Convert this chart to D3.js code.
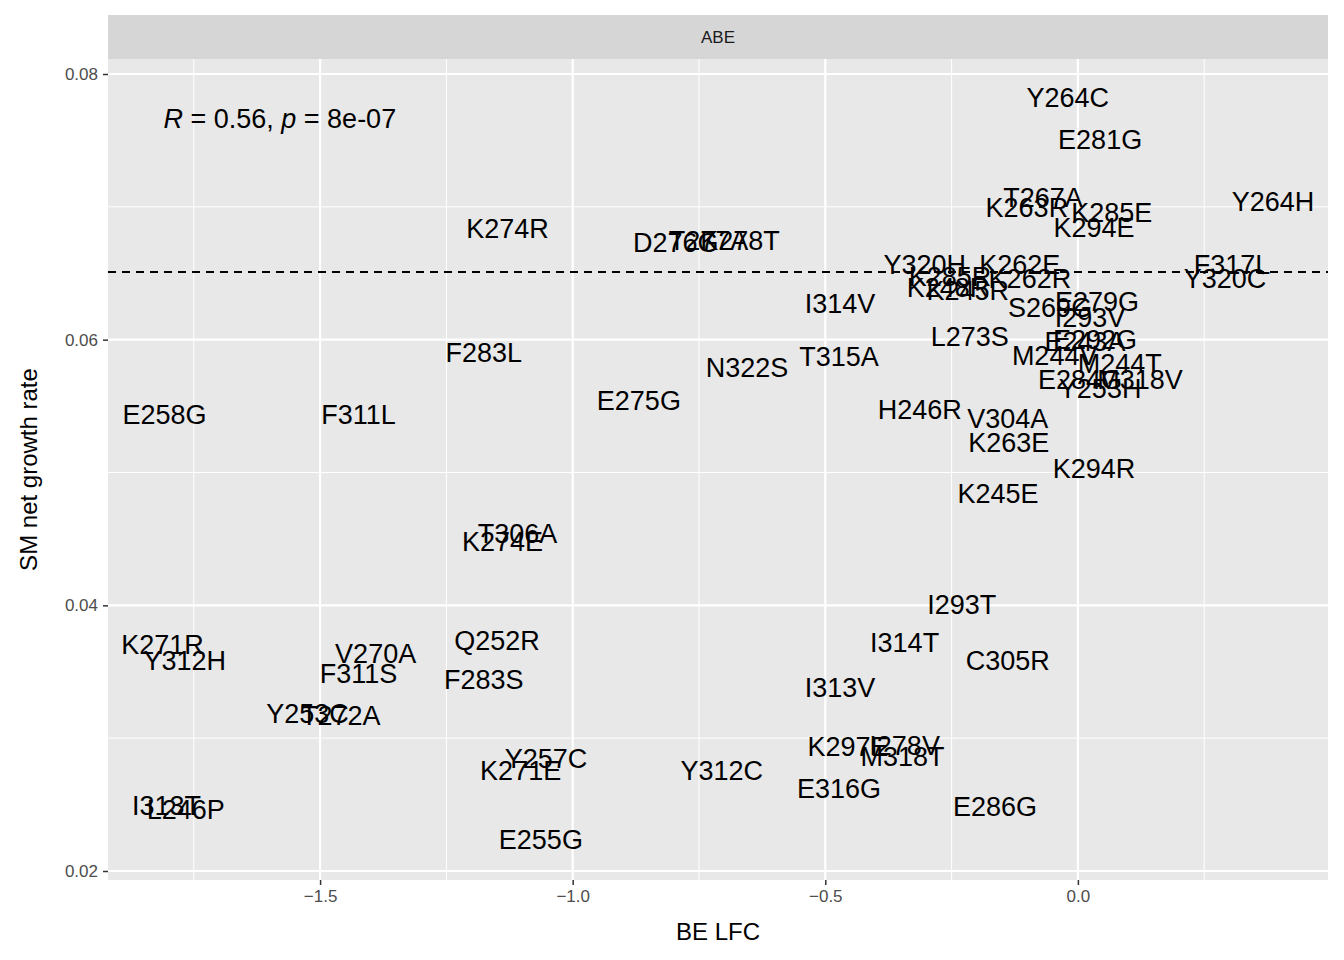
<!DOCTYPE html>
<html><head><meta charset="utf-8">
<script src="https://cdn.jsdelivr.net/npm/d3@7"></script>
<style>body{margin:0;background:#fff}text{font-family:"Liberation Sans",Arial,sans-serif}</style>
</head><body>
<script>
// mutation labels, BE LFC and SM net growth rate
const labels = ["Y264C","E281G","Y264H","T267A","K263R","K285E","K294E","K274R","T277A","K278T","D276G","Y320H","K262E","F317L","Y320C","K285R","K248R","K245R","K262R","I314V","E279G","S269G","I293V","L273S","E292G","E243A","M244V","M244T","E284G","M318V","Y253H","F283L","N322S","T315A","E275G","E258G","F311L","H246R","V304A","K263E","K294R","K245E","T306A","K274E","I293T","K271R","Y312H","V270A","Q252R","I314T","C305R","F311S","F283S","I313V","Y253C","T272A","K297E","I278V","M318T","Y257C","K271E","Y312C","E316G","E286G","I313T","L246P","E255G"];
const lfc = [-0.020,0.044,0.386,-0.069,-0.101,0.067,0.032,-1.129,-0.731,-0.669,-0.796,-0.303,-0.115,0.305,0.291,-0.253,-0.257,-0.218,-0.095,-0.471,0.038,-0.055,0.024,-0.214,0.034,0.014,-0.046,0.083,0.004,0.123,0.044,-1.176,-0.655,-0.473,-0.869,-1.808,-1.424,-0.313,-0.139,-0.137,0.032,-0.158,-1.109,-1.139,-0.230,-1.812,-1.768,-1.390,-1.150,-0.343,-0.139,-1.424,-1.176,-0.471,-1.525,-1.459,-0.455,-0.343,-0.347,-1.053,-1.103,-0.705,-0.473,-0.164,-1.804,-1.766,-1.063];
const growth = [0.0782,0.0750,0.0704,0.0707,0.0699,0.0695,0.0684,0.0683,0.0674,0.0674,0.0673,0.0656,0.0656,0.0656,0.0646,0.0647,0.0639,0.0637,0.0646,0.0627,0.0628,0.0624,0.0616,0.0602,0.0600,0.0598,0.0588,0.0582,0.0570,0.0570,0.0563,0.0590,0.0579,0.0587,0.0554,0.0543,0.0543,0.0547,0.0540,0.0522,0.0503,0.0484,0.0454,0.0448,0.0400,0.0370,0.0358,0.0363,0.0373,0.0372,0.0358,0.0348,0.0344,0.0338,0.0318,0.0317,0.0293,0.0294,0.0286,0.0284,0.0275,0.0275,0.0262,0.0248,0.0249,0.0246,0.0223];
const xTicks = [-1.5,-1.0,-0.5,0.0];
const xMinor = [-1.75,-1.25,-0.75,-0.25,0.25];
const yTicks = [0.02,0.04,0.06,0.08];
const yMinor = [0.03,0.05,0.07];
const hline = 0.0651;
const facet = "ABE";

const W = 1344, H = 960;
const L = 108, R = 1328, T = 59, B = 880;
const svg = d3.select("body").append("svg").attr("width", W).attr("height", H);
const x = d3.scaleLinear().domain([-1.5 - 212/505, 250/505]).range([L, R]);
const y = d3.scaleLinear().domain([0.02 - 9/13283, 0.08 + 15/13283]).range([B, T]);

svg.append("rect").attr("x", L).attr("y", 15).attr("width", R - L).attr("height", T - 15).attr("fill", "#d6d6d6");
svg.append("text").attr("x", (L + R) / 2).attr("y", 37).attr("text-anchor", "middle")
  .attr("dominant-baseline", "central").attr("font-size", 17).attr("fill", "#1a1a1a").text(facet);
svg.append("rect").attr("x", L).attr("y", T).attr("width", R - L).attr("height", B - T).attr("fill", "#e8e8e8");

const g = svg.append("g");
xMinor.forEach(v => g.append("line").attr("x1", x(v)).attr("x2", x(v)).attr("y1", T).attr("y2", B).attr("stroke", "#fff").attr("stroke-width", 1));
yMinor.forEach(v => g.append("line").attr("y1", y(v)).attr("y2", y(v)).attr("x1", L).attr("x2", R).attr("stroke", "#fff").attr("stroke-width", 1));
xTicks.forEach(v => g.append("line").attr("x1", x(v)).attr("x2", x(v)).attr("y1", T).attr("y2", B).attr("stroke", "#fff").attr("stroke-width", 2.2));
yTicks.forEach(v => g.append("line").attr("y1", y(v)).attr("y2", y(v)).attr("x1", L).attr("x2", R).attr("stroke", "#fff").attr("stroke-width", 2.2));

svg.append("line").attr("x1", L).attr("x2", R).attr("y1", y(hline)).attr("y2", y(hline))
  .attr("stroke", "#000").attr("stroke-width", 2).attr("stroke-dasharray", "8,6");

labels.forEach((l, i) => {
  svg.append("text").attr("x", x(lfc[i])).attr("y", y(growth[i])).attr("text-anchor", "middle")
    .attr("dominant-baseline", "central").attr("font-size", 27).attr("fill", "#000").text(l);
});

const ann = svg.append("text").attr("x", x(-1.81)).attr("y", y(0.0766)).attr("dominant-baseline", "central")
  .attr("font-size", 27).attr("fill", "#000");
ann.append("tspan").attr("font-style", "italic").text("R");
ann.append("tspan").text(" = 0.56, ");
ann.append("tspan").attr("font-style", "italic").text("p");
ann.append("tspan").text(" = 8e-07");

const xa = svg.append("g").attr("transform", `translate(0,${B})`)
  .call(d3.axisBottom(x).tickValues(xTicks).tickSize(5).tickPadding(5).tickFormat(d3.format(".1f")));
const ya = svg.append("g").attr("transform", `translate(${L},0)`)
  .call(d3.axisLeft(y).tickValues(yTicks).tickSize(5).tickPadding(5).tickFormat(d3.format(".2f")));
[xa, ya].forEach(a => {
  a.select(".domain").remove();
  a.selectAll("line").attr("stroke", "#333").attr("stroke-width", 1.5);
  a.selectAll("text").attr("font-size", 17).attr("fill", "#4d4d4d").attr("font-family", "Liberation Sans, Arial, sans-serif");
});

svg.append("text").attr("x", (L + R) / 2).attr("y", 940).attr("text-anchor", "middle")
  .attr("font-size", 24).attr("fill", "#000").text("BE LFC");
svg.append("text").attr("transform", `translate(37,${(T + B) / 2}) rotate(-90)`).attr("text-anchor", "middle")
  .attr("font-size", 24).attr("fill", "#000").text("SM net growth rate");
</script>
</body></html>
